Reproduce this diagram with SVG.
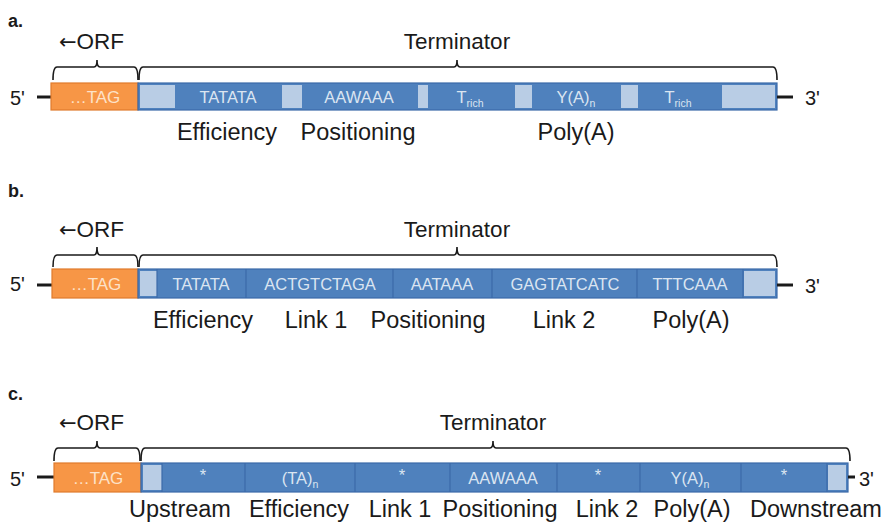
<svg xmlns="http://www.w3.org/2000/svg" width="886" height="524" viewBox="0 0 886 524">
  <style>
    .bg { fill: #ffffff; }
    .head { font-family: "Liberation Sans", Arial, sans-serif; font-weight: bold; font-size: 18px; fill: #1a1a1a; }
    .title { font-family: "Liberation Sans", Arial, sans-serif; font-size: 22.5px; fill: #1a1a1a; }
    .arrow { font-family: "DejaVu Sans", sans-serif; font-size: 21px; }
    .end { font-family: "Liberation Sans", Arial, sans-serif; font-size: 20px; fill: #1a1a1a; }
    .lbl { font-family: "Liberation Sans", Arial, sans-serif; font-size: 23.5px; fill: #1a1a1a; text-anchor: middle; }
    .seq { font-family: "Liberation Sans", Arial, sans-serif; font-size: 16.5px; fill: #dbe5f1; text-anchor: middle; }
    .sub { font-size: 10.5px; }
    .tag { font-family: "Liberation Sans", Arial, sans-serif; font-size: 17px; fill: #fde2c8; text-anchor: middle; }
    .orf { fill: #f79646; stroke: #e07b2c; stroke-width: 1.2; }
    .bar { fill: #4f81bd; stroke: #3b6aa8; stroke-width: 1.2; }
    .gap { fill: #b9cde5; }
    .div { stroke: #3b6aa8; stroke-width: 1.2; }
    .brace { fill: none; stroke: #1a1a1a; stroke-width: 1.6; }
    .dash { stroke: #1a1a1a; stroke-width: 3; }
  </style>
  <rect class="bg" x="0" y="0" width="886" height="524"/>

  <!-- panel a -->
  <g id="panel-a">
    <text class="head" x="8" y="27">a.</text>
    <text class="title" x="59" y="49"><tspan class="arrow">←</tspan>ORF</text>
    <text class="title" x="457" y="49" text-anchor="middle">Terminator</text>
    <g id="a-braces">
      <path class="brace" d="M53,80 Q53,67 57,67 H94 Q97,67 97,60 Q97,67 100,67 H134 Q138,67 138,80"/>
      <path class="brace" d="M139,80 Q139,67 143,67 H454 Q457,67 457,60 Q457,67 460,67 H773 Q777,67 777,80"/>
    </g>
    <text class="end" x="10" y="105">5'</text>
    <line class="dash" x1="37" y1="97" x2="51" y2="97"/>
    <g id="a-orf">
      <rect class="orf" x="51" y="83" width="87" height="27"/>
      <text class="tag" x="95" y="103">…TAG</text>
    </g>
    <g id="a-terminator">
      <rect class="bar" x="138" y="83" width="639" height="27"/>
      <rect class="gap" x="140" y="85" width="35" height="23"/>
      <rect class="gap" x="282" y="85" width="20" height="23"/>
      <rect class="gap" x="418" y="85" width="10" height="23"/>
      <rect class="gap" x="515" y="85" width="17" height="23"/>
      <rect class="gap" x="621" y="85" width="17" height="23"/>
      <rect class="gap" x="722" y="85" width="53" height="23"/>
      <text class="seq" x="228" y="103">TATATA</text>
      <text class="seq" x="359" y="103">AAWAAA</text>
      <text class="seq" x="470" y="103">T<tspan class="sub" dy="4">rich</tspan></text>
      <text class="seq" x="576" y="103">Y(A)<tspan class="sub" dy="4">n</tspan></text>
      <text class="seq" x="678" y="103">T<tspan class="sub" dy="4">rich</tspan></text>
    </g>
    <line class="dash" x1="777" y1="97" x2="793" y2="97"/>
    <text class="end" x="805" y="105">3'</text>
    <text class="lbl" x="227" y="140">Efficiency</text>
    <text class="lbl" x="358" y="140">Positioning</text>
    <text class="lbl" x="576" y="140">Poly(A)</text>
  </g>

  <!-- panel b -->
  <g id="panel-b">
    <text class="head" x="8" y="197">b.</text>
    <text class="title" x="59" y="237"><tspan class="arrow">←</tspan>ORF</text>
    <text class="title" x="457" y="237" text-anchor="middle">Terminator</text>
    <g id="b-braces">
      <path class="brace" d="M53,267 Q53,255 57,255 H94 Q97,255 97,247 Q97,255 100,255 H134 Q138,255 138,267"/>
      <path class="brace" d="M139,267 Q139,255 143,255 H454 Q457,255 457,247 Q457,255 460,255 H773 Q777,255 777,267"/>
    </g>
    <text class="end" x="10" y="291">5'</text>
    <line class="dash" x1="37" y1="285" x2="52" y2="285"/>
    <g id="b-orf">
      <rect class="orf" x="52" y="269" width="86" height="29"/>
      <text class="tag" x="96" y="290">…TAG</text>
    </g>
    <g id="b-terminator">
      <rect class="bar" x="138" y="269" width="639" height="29"/>
      <rect class="gap" x="140" y="271" width="17" height="25"/>
      <rect class="gap" x="744" y="271" width="31" height="25"/>
      <line class="div" x1="157" y1="269" x2="157" y2="298"/>
      <line class="div" x1="246" y1="269" x2="246" y2="298"/>
      <line class="div" x1="393" y1="269" x2="393" y2="298"/>
      <line class="div" x1="492" y1="269" x2="492" y2="298"/>
      <line class="div" x1="637" y1="269" x2="637" y2="298"/>
      <line class="div" x1="743" y1="269" x2="743" y2="298"/>
      <text class="seq" x="201" y="290">TATATA</text>
      <text class="seq" x="320" y="290">ACTGTCTAGA</text>
      <text class="seq" x="442" y="290">AATAAA</text>
      <text class="seq" x="565" y="290">GAGTATCATC</text>
      <text class="seq" x="690" y="290">TTTCAAA</text>
    </g>
    <line class="dash" x1="777" y1="285" x2="793" y2="285"/>
    <text class="end" x="805" y="293">3'</text>
    <text class="lbl" x="203" y="328">Efficiency</text>
    <text class="lbl" x="316" y="328">Link 1</text>
    <text class="lbl" x="428" y="328">Positioning</text>
    <text class="lbl" x="564" y="328">Link 2</text>
    <text class="lbl" x="691" y="328">Poly(A)</text>
  </g>

  <!-- panel c -->
  <g id="panel-c">
    <text class="head" x="8" y="400">c.</text>
    <text class="title" x="59" y="430"><tspan class="arrow">←</tspan>ORF</text>
    <text class="title" x="493" y="430" text-anchor="middle">Terminator</text>
    <g id="c-braces">
      <path class="brace" d="M54,461 Q54,448 58,448 H94 Q97,448 97,441 Q97,448 100,448 H136 Q140,448 140,461"/>
      <path class="brace" d="M141,461 Q141,448 145,448 H490 Q493,448 493,441 Q493,448 496,448 H846 Q850,448 850,461"/>
    </g>
    <text class="end" x="10" y="486">5'</text>
    <line class="dash" x1="37" y1="477" x2="54" y2="477"/>
    <g id="c-orf">
      <rect class="orf" x="54" y="463" width="87" height="29"/>
      <text class="tag" x="98" y="484">…TAG</text>
    </g>
    <g id="c-terminator">
      <rect class="bar" x="141" y="463" width="707" height="29"/>
      <rect class="gap" x="143" y="465" width="19" height="25"/>
      <rect class="gap" x="828" y="465" width="18" height="25"/>
      <line class="div" x1="162" y1="463" x2="162" y2="492"/>
      <line class="div" x1="245" y1="463" x2="245" y2="492"/>
      <line class="div" x1="355" y1="463" x2="355" y2="492"/>
      <line class="div" x1="450" y1="463" x2="450" y2="492"/>
      <line class="div" x1="557" y1="463" x2="557" y2="492"/>
      <line class="div" x1="640" y1="463" x2="640" y2="492"/>
      <line class="div" x1="741" y1="463" x2="741" y2="492"/>
      <line class="div" x1="827" y1="463" x2="827" y2="492"/>
      <text class="seq" x="203" y="481">*</text>
      <text class="seq" x="300" y="484">(TA)<tspan class="sub" dy="4">n</tspan></text>
      <text class="seq" x="402" y="481">*</text>
      <text class="seq" x="503" y="484">AAWAAA</text>
      <text class="seq" x="598" y="481">*</text>
      <text class="seq" x="690" y="484">Y(A)<tspan class="sub" dy="4">n</tspan></text>
      <text class="seq" x="784" y="481">*</text>
    </g>
    <line class="dash" x1="848" y1="477" x2="855" y2="477"/>
    <text class="end" x="859" y="486">3'</text>
    <text class="lbl" x="180" y="517">Upstream</text>
    <text class="lbl" x="299" y="517">Efficiency</text>
    <text class="lbl" x="400" y="517">Link 1</text>
    <text class="lbl" x="500" y="517">Positioning</text>
    <text class="lbl" x="607" y="517">Link 2</text>
    <text class="lbl" x="692" y="517">Poly(A)</text>
    <text class="lbl" x="816" y="517">Downstream</text>
  </g>
</svg>
